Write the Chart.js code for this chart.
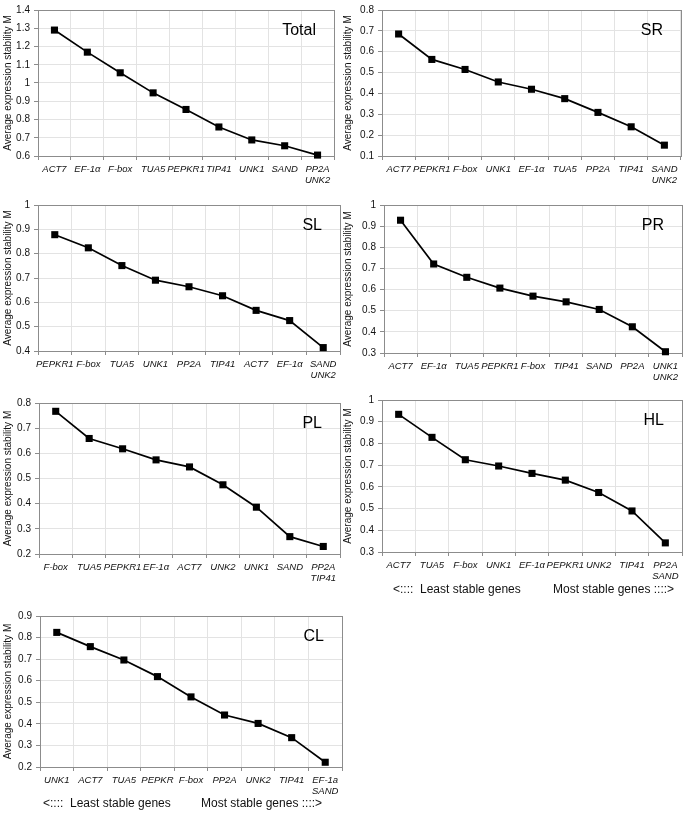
<!DOCTYPE html>
<html>
<head>
<meta charset="utf-8">
<script src="https://cdn.jsdelivr.net/npm/chart.js@4.4.0/dist/chart.umd.min.js"></script>
<style>
  body { margin: 0; background: #fff; width: 687px; height: 813px; position: relative; overflow: hidden; }
  canvas { position: absolute; }
  .note { position: absolute; font: 12px "Liberation Sans", Arial, sans-serif; color: #111; white-space: pre; }
</style>
</head>
<body>
<canvas id="c1"></canvas>
<canvas id="c2"></canvas>
<canvas id="c3"></canvas>
<canvas id="c4"></canvas>
<canvas id="c5"></canvas>
<canvas id="c6"></canvas>
<canvas id="c7"></canvas>
<div class="note" style="left:393px;top:582px">&lt;::::  Least stable genes</div>
<div class="note" style="left:553px;top:582px">Most stable genes ::::&gt;</div>
<div class="note" style="left:43px;top:796px">&lt;::::  Least stable genes</div>
<div class="note" style="left:201px;top:796px">Most stable genes ::::&gt;</div>
<script>
// gene order and M values per tissue
const totalGenes = ["ACT7", "EF-1α", "F-box", "TUA5", "PEPKR1", "TIP41", "UNK1", "SAND", ["PP2A", "UNK2"]];
const totalM = [1.29, 1.169, 1.056, 0.946, 0.855, 0.759, 0.688, 0.656, 0.605];

const srGenes = ["ACT7", "PEPKR1", "F-box", "UNK1", "EF-1α", "TUA5", "PP2A", "TIP41", ["SAND", "UNK2"]];
const srM = [0.685, 0.563, 0.515, 0.455, 0.42, 0.375, 0.309, 0.24, 0.152];

const slGenes = ["PEPKR1", "F-box", "TUA5", "UNK1", "PP2A", "TIP41", "ACT7", "EF-1α", ["SAND", "UNK2"]];
const slM = [0.878, 0.824, 0.751, 0.691, 0.664, 0.627, 0.567, 0.525, 0.414];

const prGenes = ["ACT7", "EF-1α", "TUA5", "PEPKR1", "F-box", "TIP41", "SAND", "PP2A", ["UNK1", "UNK2"]];
const prM = [0.928, 0.721, 0.658, 0.607, 0.569, 0.542, 0.506, 0.424, 0.306];

const plGenes = ["F-box", "TUA5", "PEPKR1", "EF-1α", "ACT7", "UNK2", "UNK1", "SAND", ["PP2A", "TIP41"]];
const plM = [0.767, 0.659, 0.618, 0.574, 0.546, 0.475, 0.386, 0.269, 0.23];

const hlGenes = ["ACT7", "TUA5", "F-box", "UNK1", "EF-1α", "PEPKR1", "UNK2", "TIP41", ["PP2A", "SAND"]];
const hlM = [0.934, 0.828, 0.725, 0.696, 0.662, 0.631, 0.574, 0.489, 0.342];

const clGenes = ["UNK1", "ACT7", "TUA5", "PEPKR", "F-box", "PP2A", "UNK2", "TIP41", ["EF-1a", "SAND"]];
const clM = [0.824, 0.758, 0.696, 0.619, 0.525, 0.441, 0.402, 0.336, 0.222];

const yMin = [0.6, 0.1, 0.4, 0.3, 0.2, 0.3, 0.2];
const yMax = [1.4, 0.8, 1, 1, 0.8, 1, 0.9];
const names = ["Total", "SR", "SL", "PR", "PL", "HL", "CL"];

// canvas box and plot area (page coords)
const panels = [
  { id: "c1", x: 0, y: 0, w: 340, h: 192, l: 38, t: 6, r: 334, b: 156 },
  { id: "c2", x: 340, y: 0, w: 347, h: 192, l: 382, t: 6, r: 681, b: 156 },
  { id: "c3", x: 0, y: 195, w: 345, h: 192, l: 38, t: 200, r: 340, b: 351 },
  { id: "c4", x: 340, y: 195, w: 347, h: 192, l: 384, t: 201, r: 682, b: 353 },
  { id: "c5", x: 0, y: 390, w: 345, h: 192, l: 39, t: 403, r: 340, b: 554 },
  { id: "c6", x: 340, y: 390, w: 347, h: 192, l: 382, t: 400, r: 682, b: 552 },
  { id: "c7", x: 0, y: 600, w: 347, h: 200, l: 40, t: 616, r: 343, b: 767 },
];
const genes = [totalGenes, srGenes, slGenes, prGenes, plGenes, hlGenes, clGenes];
const values = [totalM, srM, slM, prM, plM, hlM, clM];

const frame = {
  id: "frame",
  afterDraw(chart, args, opts) {
    const a = chart.chartArea, ctx = chart.ctx;
    ctx.save();
    ctx.fillStyle = "#000";
    ctx.font = "16px 'Liberation Sans', Arial, sans-serif";
    ctx.textAlign = "right";
    ctx.textBaseline = "middle";
    ctx.fillText(opts.text, a.right - 18, a.top + 21);
    ctx.restore();
  },
  beforeDatasetsDraw(chart) {
    const a = chart.chartArea, ctx = chart.ctx;
    ctx.save();
    ctx.strokeStyle = "#8c8c8c";
    ctx.lineWidth = 1;
    ctx.strokeRect(Math.round(a.left) + 0.5, Math.round(a.top) + 0.5, Math.round(a.right - a.left), Math.round(a.bottom - a.top));
    ctx.restore();
  }
};

panels.forEach((p, i) => {
  const cv = document.getElementById(p.id);
  cv.style.left = p.x + "px";
  cv.style.top = p.y + "px";
  cv.style.width = p.w + "px";
  cv.style.height = p.h + "px";
  cv.width = p.w;
  cv.height = p.h;
  new Chart(cv, {
    type: "line",
    data: {
      labels: genes[i],
      datasets: [{
        data: values[i],
        borderColor: "#000",
        borderWidth: 1.7,
        backgroundColor: "#000",
        pointStyle: "rect",
        pointRadius: 5,
        pointBorderWidth: 0,
        tension: 0,
        clip: false,
      }],
    },
    options: {
      responsive: false,
      animation: false,
      layout: { padding: { top: p.t - p.y, right: p.x + p.w - p.r, left: 0, bottom: 0 } },
      plugins: { legend: { display: false }, tooltip: { enabled: false }, frame: { text: names[i] } },
      scales: {
        x: {
          offset: true,
          grid: { offset: true, color: "#e3e3e3", tickColor: "#8c8c8c", tickLength: 4 },
          border: { color: "#8c8c8c" },
          ticks: {
            autoSkip: false, maxRotation: 0, color: "#111", padding: 3,
            font: { family: "'Liberation Sans', Arial, sans-serif", size: 9.5, style: "italic", lineHeight: 1.25 },
          },
          afterFit: s => { s.height = p.y + p.h - p.b; },
        },
        y: {
          min: yMin[i], max: yMax[i],
          grid: { color: "#e3e3e3", tickColor: "#8c8c8c", tickLength: 4 },
          border: { color: "#8c8c8c" },
          ticks: {
            stepSize: 0.1, color: "#111", padding: 4,
            font: { family: "'Liberation Sans', Arial, sans-serif", size: 10 },
            callback: v => String(+v.toFixed(2)),
          },
          title: {
            display: true, text: "Average expression stability M", color: "#111", padding: 2,
            font: { family: "'Liberation Sans', Arial, sans-serif", size: 10 },
          },
          afterFit: s => { s.width = p.l - p.x; },
        },
      },
    },
    plugins: [frame],
  });
});
</script>
</body>
</html>
